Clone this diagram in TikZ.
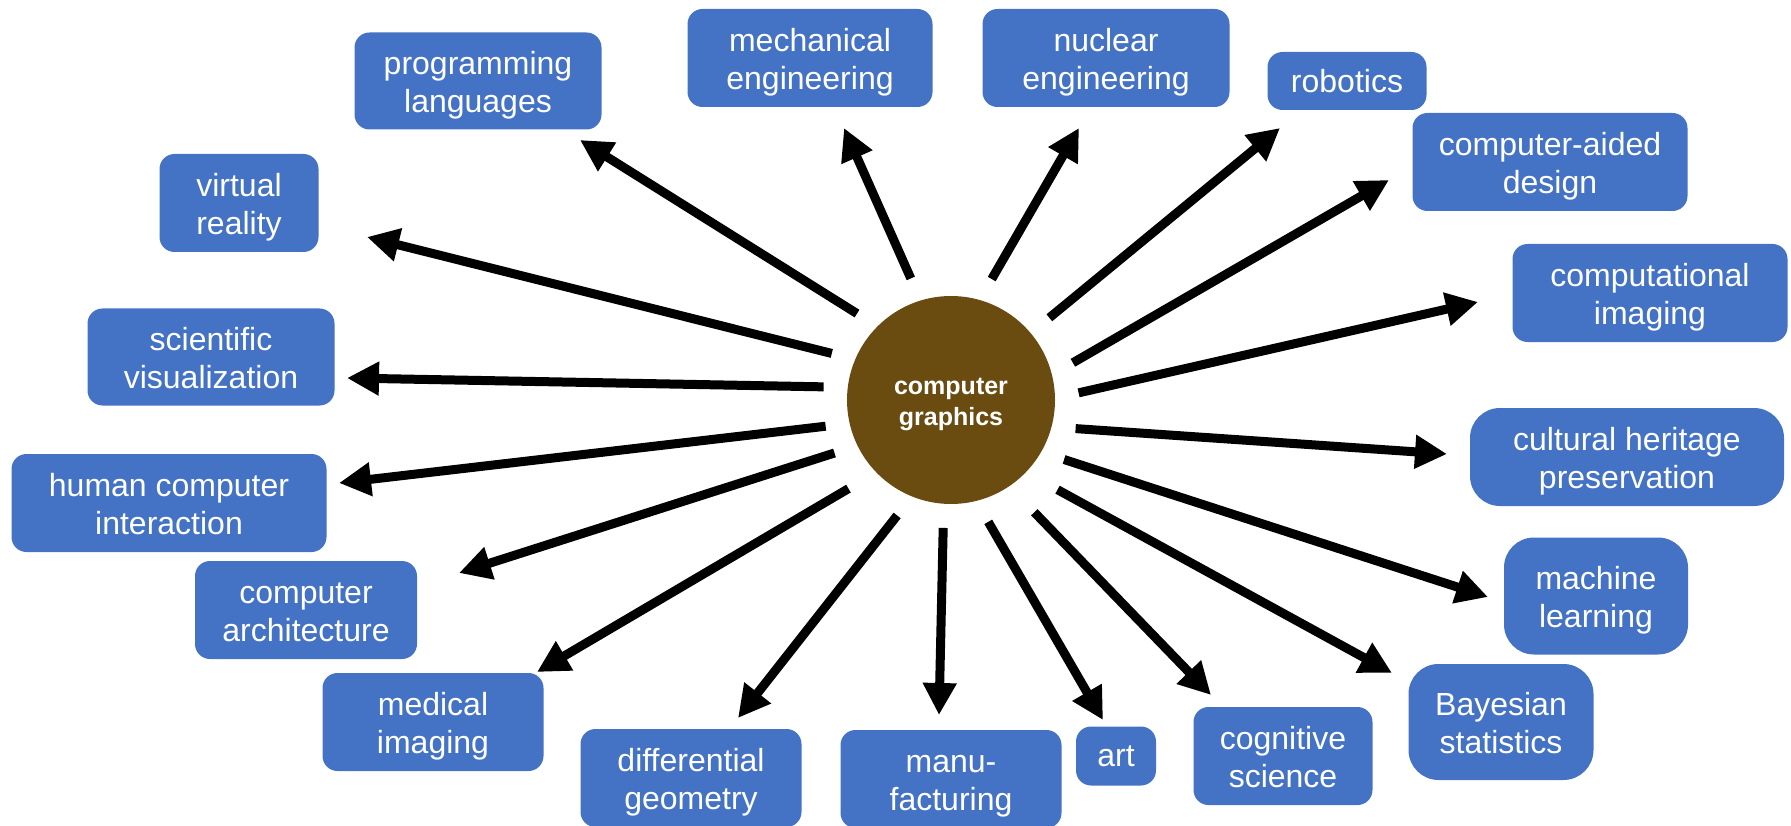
\documentclass[tikz,border=0pt]{standalone}
\usepackage{fontspec}
\setmainfont{Liberation Sans}
\usetikzlibrary{arrows.meta}
\definecolor{topicblue}{RGB}{68,114,196}
\definecolor{cgbrown}{RGB}{106,76,17}
\tikzset{topic/.style = {fill=topicblue, text=white, rounded corners=15pt, align=center,
                         inner sep=0pt, font=\fontsize{32}{38}\selectfont},
         pair/.style = {topic, execute at begin node={\rule[-7pt]{0pt}{77pt}}},
         roundpair/.style = {pair, rounded corners=30pt},
         spoke/.style = {line width=9pt, -{Triangle[length=32pt,width=32pt]}, shorten <=24pt}}

\begin{document}
\begin{tikzpicture}[x=1pt, y=-1pt]
      \useasboundingbox (0,0) rectangle (1791,826);

      \node [circle, fill=cgbrown, minimum size=208pt, inner sep=0pt, text=white, align=center,
             font=\bfseries\fontsize{25}{31}\selectfont,
             execute at begin node={\rule[-5pt]{0pt}{62pt}}] (cg) at (951,400) {computer\\graphics};

      % topics, clockwise from the left top
      \node [pair, minimum width=159pt, minimum height=98pt] (vr) at (239,203) {virtual\\reality};
      \node [pair, minimum width=247pt, minimum height=97pt] (prog) at (478,81) {programming\\languages};
      \node [pair, minimum width=245pt, minimum height=98pt] (mech) at (810,58) {mechanical\\engineering};
      \node [pair, minimum width=247pt, minimum height=98pt] (nuc) at (1106,58) {nuclear\\engineering};
      \node [topic, minimum width=159pt, minimum height=58pt] (rob) at (1347,81) {robotics};
      \node [pair, minimum width=275pt, minimum height=98pt] (cad) at (1550,162) {computer-aided\\design};
      \node [pair, minimum width=275pt, minimum height=98pt] (comp) at (1650,293) {computational\\imaging};
      \node [roundpair, minimum width=314pt, minimum height=98pt] (cult) at (1627,457) {cultural heritage\\preservation};
      \node [roundpair, minimum width=184pt, minimum height=117pt] (ml) at (1596,596) {machine\\learning};
      \node [roundpair, minimum width=185pt, minimum height=116pt] (bayes) at (1501,722) {Bayesian\\statistics};
      \node [pair, minimum width=179pt, minimum height=98pt] (cog) at (1283,756) {cognitive\\science};
      \node [topic, minimum width=80pt, minimum height=59pt] (art) at (1116,756) {art};
      \node [pair, minimum width=221pt, minimum height=98pt] (manu) at (951,779) {manu-\\facturing};
      \node [pair, minimum width=221pt, minimum height=98pt] (diff) at (691,778) {differential\\geometry};
      \node [pair, minimum width=221pt, minimum height=98pt] (med) at (433,722) {medical\\imaging};
      \node [pair, minimum width=222pt, minimum height=98pt] (arch) at (306,610) {computer\\architecture};
      \node [pair, minimum width=315pt, minimum height=98pt] (hci) at (169,503) {human computer\\interaction};
      \node [pair, minimum width=247pt, minimum height=97pt] (sv) at (211,357) {scientific\\visualization};

      % arrow tips stop short of the boxes
      \coordinate (t-vr) at (367,237);
      \coordinate (t-prog) at (580,140);
      \coordinate (t-mech) at (844,128);
      \coordinate (t-nuc) at (1079,128);
      \coordinate (t-rob) at (1280,128);
      \coordinate (t-cad) at (1389,180);
      \coordinate (t-comp) at (1478,302);
      \coordinate (t-cult) at (1447,454);
      \coordinate (t-ml) at (1488,597);
      \coordinate (t-bayes) at (1392,673);
      \coordinate (t-cog) at (1211,695);
      \coordinate (t-art) at (1103,720);
      \coordinate (t-manu) at (939,715);
      \coordinate (t-diff) at (738,718);
      \coordinate (t-med) at (537,672);
      \coordinate (t-arch) at (459,573);
      \coordinate (t-hci) at (339,483);
      \coordinate (t-sv) at (347,378);

      \draw [spoke] (cg.157) -- (t-vr);
      \draw [spoke] (cg.135) -- (t-prog);
      \draw [spoke] (cg.107) -- (t-mech);
      \draw [spoke] (cg.74) -- (t-nuc);
      \draw [spoke] (cg.40) -- (t-rob);
      \draw [spoke] (cg.14) -- (t-cad);
      \draw [spoke] (cg.1) -- (t-comp);
      \draw [spoke] (cg.345) -- (t-cult);
      \draw [spoke] (cg.330) -- (t-ml);
      \draw [spoke, shorten <=36pt] (cg.316) -- (t-bayes);
      \draw [spoke, shorten <=36pt] (cg.304) -- (t-cog);
      \draw [spoke] (cg.284) -- (t-art);
      \draw [spoke] (cg.266) -- (t-manu);
      \draw [spoke] (cg.248) -- (t-diff);
      \draw [spoke, shorten <=32pt] (cg.224) -- (t-med);
      \draw [spoke] (cg.206) -- (t-arch);
      \draw [spoke] (cg.193) -- (t-hci);
      \draw [spoke] (cg.173) -- (t-sv);
\end{tikzpicture}
\end{document}
